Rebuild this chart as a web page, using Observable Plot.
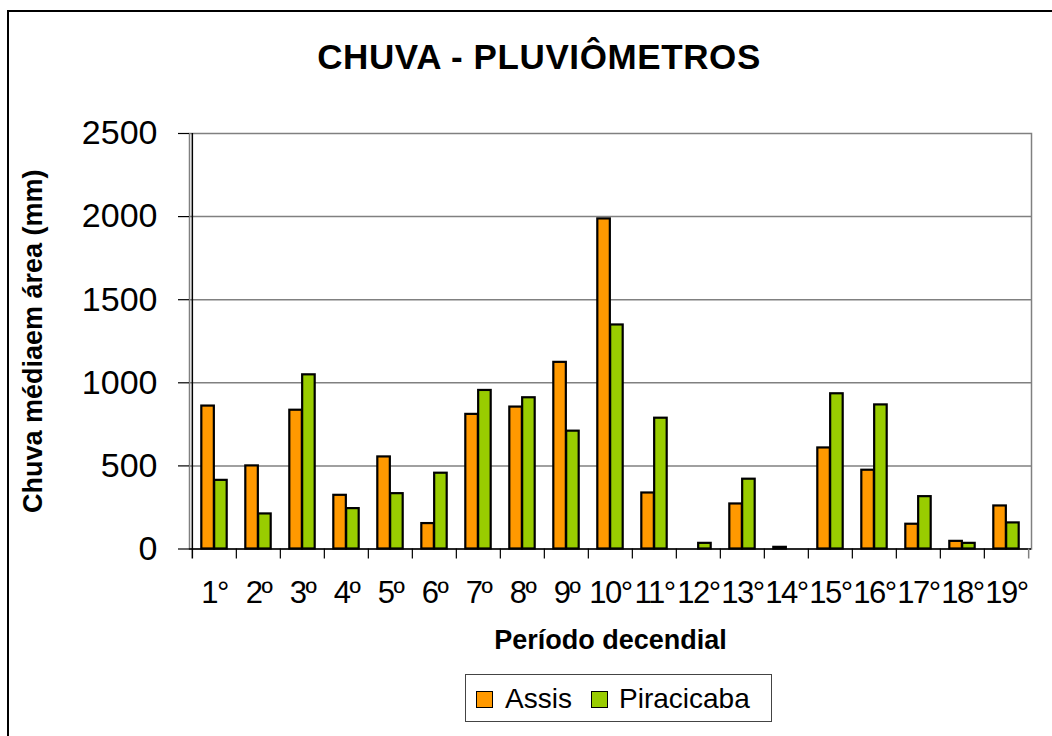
<!DOCTYPE html>
<html><head><meta charset="utf-8">
<script src="https://cdn.jsdelivr.net/npm/d3@7"></script>
<script src="https://cdn.jsdelivr.net/npm/@observablehq/plot@0.6"></script>
<style>
html,body{margin:0;padding:0;background:#fff;overflow:hidden;width:1052px;height:736px;font-family:"Liberation Sans",Arial,sans-serif;color:#000;}
#frame{position:absolute;left:7px;top:10px;width:1200px;height:900px;border:2px solid #000;box-sizing:border-box;}
#title{position:absolute;left:0;width:1078px;top:39px;text-align:center;font-weight:bold;font-size:35px;line-height:35px;letter-spacing:0.6px;white-space:nowrap;}
#chart{position:absolute;left:0;top:100px;}
#legend{position:absolute;left:465px;top:674px;width:307px;height:48px;border:1px solid #444;box-sizing:border-box;background:#fff;}
#legend .sw{position:absolute;top:16px;width:17px;height:17px;border:1.5px solid #000;box-sizing:border-box;}
#legend .lb{position:absolute;top:0;font-size:28px;line-height:28px;}
g[aria-label="x-axis tick label"]{letter-spacing:-1.5px;}
g[aria-label="x-axis label"], g[aria-label="y-axis label"]{font-weight:bold;font-size:27px;}
</style>
</head><body>
<div id="frame"></div>
<div id="title">CHUVA - PLUVIÔMETROS</div>
<div id="chart"></div>
<div id="legend"></div>
<script>
const categories = ["1°","2º","3º","4º","5º","6º","7º","8º","9º","10°","11°","12°","13°","14°","15°","16°","17°","18°","19°"];
const assis = [860, 500, 835, 323, 554, 153, 810, 854, 1123, 1986, 337, 0, 271, 10, 608, 474, 149, 46, 259];
const piracicaba = [413, 211, 1048, 243, 333, 456, 954, 910, 709, 1348, 787, 34, 420, 0, 934, 867, 315, 34, 157];
const yTicks = [0, 500, 1000, 1500, 2000, 2500];
const seriesNames = ["Assis", "Piracicaba"];
const seriesColors = ["#FF9900", "#99CC00"];

const data = categories.map((c, i) => ({cat: c, assis: assis[i], pira: piracicaba[i]}));

const W = 1052, H = 560, mL = 189, mR = 21, mT = 33, mB = 111.5;
const step = (W - mL - mR) / categories.length;

const chart = Plot.plot({
  width: W, height: H,
  marginLeft: mL, marginRight: mR, marginTop: mT, marginBottom: mB,
  style: {fontFamily: '"Liberation Sans", Arial, sans-serif', color: "#000", background: "transparent", overflow: "visible"},
  x: {type: "band", domain: categories, padding: 0},
  y: {domain: [0, 2500]},
  marks: [
    Plot.gridY(yTicks.slice(1, -1), {stroke: "#808080", strokeOpacity: 1, strokeWidth: 1.5}),
    Plot.frame({stroke: "#808080", strokeWidth: 1.5}),
    Plot.barY(data, {x: "cat", y: "assis", fill: seriesColors[0], stroke: "#000", strokeWidth: 2.2, insetLeft: 0.21 * step, insetRight: 0.5 * step}),
    Plot.barY(data, {x: "cat", y: "pira", fill: seriesColors[1], stroke: "#000", strokeWidth: 2.2, insetLeft: 0.5 * step, insetRight: 0.21 * step}),
    Plot.ruleY([0], {stroke: "#000", strokeWidth: 1.5}),
    Plot.ruleX([categories[0]], {x: d => d, dx: -step / 2, stroke: "#000", strokeWidth: 1.5, insetBottom: -10}),
    Plot.ruleX(categories.slice(1), {x: d => d, y1: 0, dx: -step / 2, stroke: "#000", strokeWidth: 1.2, insetBottom: -10}),
    Plot.ruleX([categories[categories.length - 1]], {x: d => d, y1: 0, dx: step / 2, stroke: "#808080", strokeWidth: 1.5, insetBottom: -10}),
    Plot.axisY({ticks: yTicks, tickFormat: d => String(d), tickSize: 11, tickPadding: 21, fontSize: 34, strokeWidth: 1.2,
      label: "Chuva médiaem área (mm)", labelAnchor: "center", labelOffset: 167, labelArrow: "none"}),
    Plot.axisX({tickSize: 0, tickPadding: 32, fontSize: 31,
      label: "Período decendial", labelAnchor: "center", labelOffset: 100})
  ]
});
document.getElementById("chart").appendChild(chart);

// legend
const legend = document.getElementById("legend");
const swX = [10, 125], lbX = [39, 153];
seriesNames.forEach((n, i) => {
  const s = document.createElement("div");
  s.className = "sw"; s.style.left = swX[i] + "px"; s.style.background = seriesColors[i];
  legend.appendChild(s);
  const t = document.createElement("div");
  t.className = "lb"; t.style.left = lbX[i] + "px"; t.style.top = "10px"; t.textContent = n;
  legend.appendChild(t);
});
</script>
</body></html>
